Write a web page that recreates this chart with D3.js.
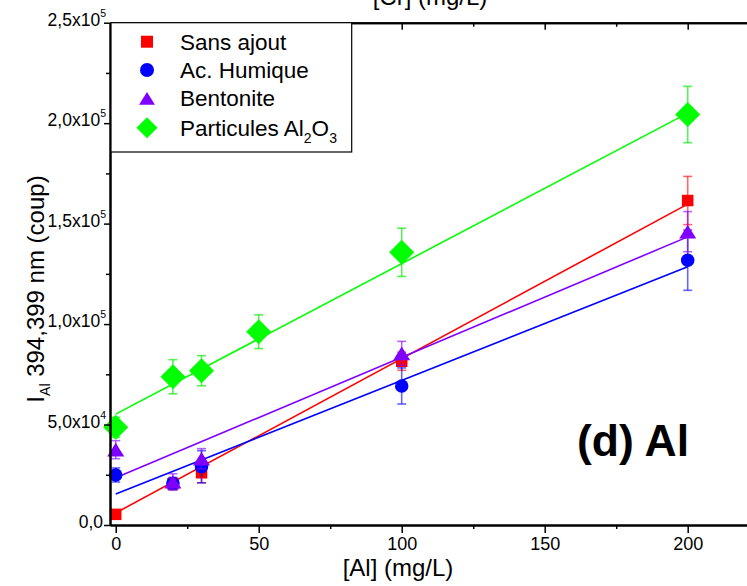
<!DOCTYPE html>
<html>
<head>
<meta charset="utf-8">
<script src="https://cdn.jsdelivr.net/npm/d3@7"></script>
<style>
  html, body { margin: 0; padding: 0; background: #fff; }
  svg { display: block; font-family: "Liberation Sans", Arial, sans-serif; }
</style>
</head>
<body>
<svg id="chart" width="747" height="586"></svg>
<script>
// ---------- data ----------
const conc = [0, 20, 30, 100, 200];
const sansAjout = [5300, 20500, 26000, 81500, 161500];
const sansAjoutErr = [1000, 3000, 5000, 4500, 12000];
const acHumique = [24900, 20700, 29000, 69200, 131800];
const acHumiqueErr = [3500, 3000, 8000, 9000, 15000];
const bentonite = [37500, 21500, 33000, 85400, 146000];
const bentoniteErr = [4500, 4000, 5000, 6000, 10000];
const concAl2O3 = [0, 20, 30, 50, 100, 200];
const particulesAl2O3 = [48600, 73800, 76800, 96200, 135700, 204300];
const particulesAl2O3Err = [5000, 8500, 7500, 8400, 12000, 14000];
// fitted lines (end points at x = 0 and x = 200)
const fitX = [0, 200];
const fitSansAjout = [6000, 159700];
const fitAcHumique = [15400, 128500];
const fitBentonite = [23500, 143400];
const fitAl2O3 = [55200, 205000];

const xMajorTicks = [0, 50, 100, 150, 200];
const xMinorTicks = [25, 75, 125, 175, 225];
const yMajorTicks = [0, 50000, 100000, 150000, 200000, 250000];
const yMinorTicks = [25000, 75000, 125000, 175000, 225000];
const yTickMantissa = ["0,0", "5,0x10", "1,0x10", "1,5x10", "2,0x10", "2,5x10"];
const yTickExponent = ["", "4", "5", "5", "5", "5"];
const legendLabels = ["Sans ajout", "Ac. Humique", "Bentonite", "Particules Al"];

// ---------- layout ----------
const svg = d3.select("#chart");
const plotLeft = 110, plotRight = 759.2, plotTop = 22.7, plotBottom = 525;
const x = d3.scaleLinear().domain([-2, 225]).range([plotLeft, plotRight]);
const y = d3.scaleLinear().domain([0, 250000]).range([plotBottom, plotTop]);

svg.append("rect").attr("width", 747).attr("height", 586).attr("fill", "#fff");

const series = [
  { xs: conc, ys: sansAjout, err: sansAjoutErr, fit: fitSansAjout, color: "#ff0000", errColor: "rgba(255,0,0,0.6)", shape: "square" },
  { xs: conc, ys: acHumique, err: acHumiqueErr, fit: fitAcHumique, color: "#0000ff", errColor: "rgba(0,0,255,0.6)", shape: "circle" },
  { xs: conc, ys: bentonite, err: bentoniteErr, fit: fitBentonite, color: "#8000ff", errColor: "rgba(128,0,255,0.6)", shape: "triangle" },
  { xs: concAl2O3, ys: particulesAl2O3, err: particulesAl2O3Err, fit: fitAl2O3, color: "#00ff00", errColor: "rgba(0,230,0,0.65)", shape: "diamond" }
];

function shapePath(shape, s) {
  if (shape === "square") {
    const h = s / 2; return `M${-h},${-h}H${h}V${h}H${-h}Z`;
  }
  if (shape === "circle") {
    const r = s / 2; return `M${r},0A${r},${r} 0 1,1 ${-r},0A${r},${r} 0 1,1 ${r},0Z`;
  }
  if (shape === "triangle") {
    const w = s / 2, hh = s * 0.8 / 2; return `M0,${-hh}L${w},${hh}L${-w},${hh}Z`;
  }
  if (shape === "diamond") {
    const h = s / 2; return `M0,${-h}L${h},0L0,${h}L${-h},0Z`;
  }
}
const markerSize = { square: 11.5, circle: 13.5, triangle: 17, diamond: 25 };
const legendSize = { square: 12, circle: 14, triangle: 16, diamond: 21 };

// ---------- fit lines ----------
const line = d3.line().x(d => x(d[0])).y(d => y(d[1]));
series.forEach(s => {
  svg.append("path")
    .attr("d", line(fitX.map((v, i) => [v, s.fit[i]])))
    .attr("fill", "none").attr("stroke", s.color).attr("stroke-width", 1.6);
});

// ---------- error bars + markers ----------
series.forEach(s => {
  const g = svg.append("g");
  s.xs.forEach((cx, i) => {
    const px = x(cx), y1 = y(s.ys[i] - s.err[i]), y2 = y(s.ys[i] + s.err[i]);
    g.append("line").attr("x1", px).attr("x2", px).attr("y1", y1).attr("y2", y2)
      .attr("stroke", s.errColor).attr("stroke-width", 1.6);
    [y1, y2].forEach(yy => g.append("line").attr("x1", px - 4.5).attr("x2", px + 4.5)
      .attr("y1", yy).attr("y2", yy).attr("stroke", s.errColor).attr("stroke-width", 1.6));
  });
  g.selectAll("path.m").data(s.xs.map((cx, i) => [cx, s.ys[i]])).join("path")
    .attr("class", "m")
    .attr("transform", d => `translate(${x(d[0])},${y(d[1])})`)
    .attr("d", shapePath(s.shape, markerSize[s.shape]))
    .attr("fill", s.color);
});

// ---------- axes ----------
function styleAxis(g) {
  g.select(".domain").attr("stroke", "#000").attr("stroke-width", 2);
  g.selectAll(".tick line").attr("stroke", "#000").attr("stroke-width", 1.5);
}
// bottom
const xAxisMajor = svg.append("g").attr("transform", `translate(0,${plotBottom})`)
  .call(d3.axisBottom(x).tickValues(xMajorTicks).tickSize(8).tickSizeOuter(0).tickPadding(4).tickFormat(d3.format("d")));
styleAxis(xAxisMajor);
xAxisMajor.selectAll("text").attr("font-size", 18).attr("font-family", "Liberation Sans, Arial, sans-serif").attr("fill", "#000");
const xAxisMinor = svg.append("g").attr("transform", `translate(0,${plotBottom})`)
  .call(d3.axisBottom(x).tickValues(xMinorTicks).tickSize(4).tickSizeOuter(0).tickFormat(""));
styleAxis(xAxisMinor);
// top (inward ticks, no labels)
const xTopMajor = svg.append("g").attr("transform", `translate(0,${plotTop})`)
  .call(d3.axisBottom(x).tickValues(xMajorTicks).tickSize(7).tickSizeOuter(0).tickFormat(""));
styleAxis(xTopMajor);
const xTopMinor = svg.append("g").attr("transform", `translate(0,${plotTop})`)
  .call(d3.axisBottom(x).tickValues(xMinorTicks).tickSize(4).tickSizeOuter(0).tickFormat(""));
styleAxis(xTopMinor);
// left
const yAxisMajor = svg.append("g").attr("transform", `translate(${plotLeft},0)`)
  .call(d3.axisLeft(y).tickValues(yMajorTicks).tickSize(6).tickSizeOuter(0).tickFormat(""));
styleAxis(yAxisMajor);
const yAxisMinor = svg.append("g").attr("transform", `translate(${plotLeft},0)`)
  .call(d3.axisLeft(y).tickValues(yMinorTicks).tickSize(4).tickSizeOuter(0).tickFormat(""));
styleAxis(yAxisMinor);

yMajorTicks.forEach((v, i) => {
  const t = svg.append("text")
    .attr("x", yTickExponent[i] ? 106 : 103)
    .attr("y", y(v) + 3)
    .attr("text-anchor", "end")
    .attr("font-size", 17.5)
    .attr("fill", "#000")
    .text(yTickMantissa[i]);
  if (yTickExponent[i]) {
    t.append("tspan").attr("dy", -9).attr("font-size", 10.5).text(yTickExponent[i]);
  }
});

// ---------- axis titles ----------
svg.append("text").attr("x", 398).attr("y", 576).attr("text-anchor", "middle")
  .attr("font-size", 24).attr("fill", "#000").text("[Al] (mg/L)");
svg.append("text").attr("x", 430).attr("y", 5).attr("text-anchor", "middle")
  .attr("font-size", 24).attr("fill", "#000").text("[Cr] (mg/L)");

const yTitle = svg.append("text")
  .attr("transform", "translate(44,289) rotate(-90)")
  .attr("text-anchor", "middle").attr("font-size", 24).attr("fill", "#000");
yTitle.append("tspan").text("I");
yTitle.append("tspan").attr("dy", 6).attr("font-size", 14).text("Al");
yTitle.append("tspan").attr("dy", -6).text(" 394,399 nm (coup)");

// ---------- panel label ----------
svg.append("text").attr("x", 577).attr("y", 456)
  .attr("font-size", 44.5).attr("font-weight", "bold").attr("fill", "#000").text("(d) Al");

// ---------- legend ----------
const leg = svg.append("g");
leg.append("rect").attr("x", 111).attr("y", 22.7).attr("width", 240.7).attr("height", 129.3)
  .attr("fill", "#fff").attr("stroke", "#000").attr("stroke-width", 1.2);
const rowY = [41.7, 70, 98.3, 127.7];
series.forEach((s, i) => {
  leg.append("path").attr("transform", `translate(147,${rowY[i]})`)
    .attr("d", shapePath(s.shape, legendSize[s.shape])).attr("fill", s.color);
  const t = leg.append("text").attr("x", 180).attr("y", rowY[i] + 8)
    .attr("font-size", 22.5).attr("fill", "#000").text(legendLabels[i]);
  if (i === 3) {
    t.append("tspan").attr("dy", 7).attr("font-size", 14).text("2");
    t.append("tspan").attr("dy", -7).text("O");
    t.append("tspan").attr("dy", 7).attr("font-size", 14).text("3");
  }
});
</script>
</body>
</html>
